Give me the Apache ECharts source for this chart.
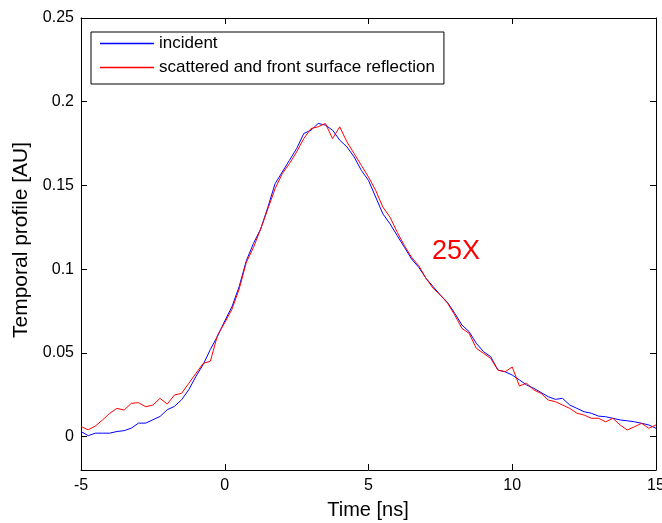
<!DOCTYPE html>
<html>
<head>
<meta charset="utf-8">
<script src="https://cdn.jsdelivr.net/npm/echarts@6/dist/echarts.min.js"></script>
<style>
  html, body { margin: 0; padding: 0; background: #fff; }
  #chart { width: 662px; height: 523px; }
</style>
</head>
<body>
<div id="chart"></div>
<script>
// time axis (ns)
const timeNs = [
  -5, -4.75, -4.5, -4.25, -4, -3.75, -3.5, -3.25, -3, -2.75, -2.5, -2.25, -2, -1.75, -1.5, -1.25,
  -1, -0.75, -0.5, -0.25, 0, 0.25, 0.5, 0.75, 1, 1.25, 1.5, 1.75, 2, 2.25, 2.5, 2.75,
  3, 3.25, 3.5, 3.75, 4, 4.25, 4.5, 4.75, 5, 5.25, 5.5, 5.75, 6, 6.25, 6.5, 6.75,
  7, 7.25, 7.5, 7.75, 8, 8.25, 8.5, 8.75, 9, 9.25, 9.5, 9.75, 10, 10.25, 10.5, 10.75,
  11, 11.25, 11.5, 11.75, 12, 12.25, 12.5, 12.75, 13, 13.25, 13.5, 13.75, 14, 14.25, 14.5, 14.75, 15
];

const incident = [
  0.003, 0.0005, 0.002, 0.002, 0.002, 0.003, 0.0035, 0.005, 0.008, 0.008, 0.010, 0.012, 0.016, 0.018, 0.022, 0.028,
  0.036, 0.043, 0.052, 0.060, 0.069, 0.0775, 0.0895, 0.105, 0.1154, 0.124, 0.137, 0.151, 0.158, 0.165, 0.172, 0.181,
  0.183, 0.187, 0.186, 0.183, 0.177, 0.173, 0.167, 0.159, 0.153, 0.143, 0.133, 0.127, 0.120, 0.113, 0.106, 0.101,
  0.0945, 0.0895, 0.0845, 0.080, 0.0736, 0.0666, 0.0626, 0.0557, 0.0507, 0.0477, 0.0397, 0.0387, 0.0367, 0.0338, 0.0308, 0.0288,
  0.0263, 0.0238, 0.0222, 0.0228, 0.0188, 0.0168, 0.0148, 0.0139, 0.0122, 0.0118, 0.0109, 0.0099, 0.0094, 0.0088, 0.0079, 0.0069, 0.0049
];

const scattered = [
  0.006, 0.004, 0.0063, 0.0099, 0.0139, 0.0168, 0.0158, 0.0198, 0.0202, 0.0178, 0.0188, 0.0228, 0.0194, 0.0248, 0.0258, 0.0318,
  0.0378, 0.0437, 0.045, 0.0606, 0.068, 0.076, 0.088, 0.104, 0.113, 0.124, 0.136, 0.148, 0.157, 0.163, 0.170, 0.178,
  0.184, 0.185, 0.187, 0.178, 0.185, 0.176, 0.169, 0.162, 0.155, 0.147, 0.137, 0.131, 0.122, 0.114, 0.107, 0.102,
  0.0945, 0.0885, 0.0845, 0.0796, 0.0726, 0.0646, 0.0616, 0.0527, 0.0497, 0.0467, 0.0397, 0.0387, 0.0415, 0.0302, 0.0318, 0.0278,
  0.0258, 0.0218, 0.0208, 0.0188, 0.0168, 0.0139, 0.0128, 0.0109, 0.0109, 0.0088, 0.0109, 0.0069, 0.0039, 0.0058, 0.0079, 0.0049, 0.0069
];

const yTicks = [0, 0.05, 0.1, 0.15, 0.2, 0.25];
const yTickLabels = ['0', '0.05', '0.1', '0.15', '0.2', '0.25'];

const pairs = (ys) => timeNs.map((t, i) => [t, ys[i]]);

const chart = echarts.init(document.getElementById('chart'), null, { renderer: 'canvas' });

const font = 'Liberation Sans, Arial, sans-serif';

chart.setOption({
  animation: false,
  grid: { left: 81, top: 18, right: 6, bottom: 53, outerBoundsMode: 'none' },
  legend: {
    left: 91, top: 32,
    orient: 'vertical',
    borderColor: '#000', borderWidth: 1,
    padding: [3, 9, 8, 9],
    icon: 'rect',
    itemWidth: 54, itemHeight: 1.5, itemGap: 7,
    textStyle: { fontFamily: font, fontSize: 17, color: '#000' },
    data: [
      { name: 'incident', itemStyle: { color: '#0000ff', borderWidth: 0 } },
      { name: 'scattered and front surface reflection', itemStyle: { color: '#ff0000', borderWidth: 0 } }
    ]
  },
  xAxis: [{
    type: 'value', min: -5, max: 15, interval: 5,
    axisLine: { show: true, onZero: false, lineStyle: { color: '#000' } },
    axisTick: { show: true, inside: true, length: 6, lineStyle: { color: '#000', width: 1 } },
    axisLabel: { fontSize: 16, color: '#000', margin: 8, fontFamily: font },
    splitLine: { show: false }
  }, {
    type: 'value', min: -5, max: 15, interval: 5, position: 'top',
    axisLine: { show: true, onZero: false, lineStyle: { color: '#000' } },
    axisTick: { show: true, inside: true, length: 6, lineStyle: { color: '#000', width: 1 } },
    axisLabel: { show: false }, splitLine: { show: false }
  }],
  yAxis: [{
    type: 'value', min: -0.02, max: 0.25,
    axisLine: { show: true, onZero: false, lineStyle: { color: '#000' } },
    axisTick: { show: true, inside: true, length: 6, lineStyle: { color: '#000', width: 1 }, customValues: yTicks },
    axisLabel: {
      fontSize: 16, color: '#000', margin: 7, fontFamily: font, customValues: yTicks,
      formatter: (v) => yTickLabels[yTicks.findIndex(t => Math.abs(t - v) < 1e-9)] ?? ''
    },
    splitLine: { show: false }
  }, {
    type: 'value', min: -0.02, max: 0.25, position: 'right',
    axisLine: { show: true, onZero: false, lineStyle: { color: '#000' } },
    axisTick: { show: true, inside: true, length: 6, lineStyle: { color: '#000', width: 1 }, customValues: yTicks },
    axisLabel: { show: false }, splitLine: { show: false }
  }],
  series: [{
    name: 'incident', type: 'line', data: pairs(incident),
    showSymbol: false, symbol: 'none',
    lineStyle: { color: '#0000ff', width: 1 }, itemStyle: { color: '#0000ff' }
  }, {
    name: 'scattered and front surface reflection', type: 'line', data: pairs(scattered),
    showSymbol: false, symbol: 'none',
    lineStyle: { color: '#ff0000', width: 1 }, itemStyle: { color: '#ff0000' }
  }],
  graphic: [{
    type: 'text', left: 432, top: 238,
    style: { text: '25X', fill: '#ff0000', font: '27px ' + font }
  }, {
    type: 'text', x: 368, y: 510,
    style: { text: 'Time [ns]', fill: '#000', font: '20px ' + font, align: 'center', verticalAlign: 'middle' }
  }, {
    type: 'text', x: 21, y: 240, rotation: Math.PI / 2,
    style: { text: 'Temporal profile [AU]', fill: '#000', font: '21px ' + font, align: 'center', verticalAlign: 'middle' }
  }]
});
</script>
</body>
</html>
